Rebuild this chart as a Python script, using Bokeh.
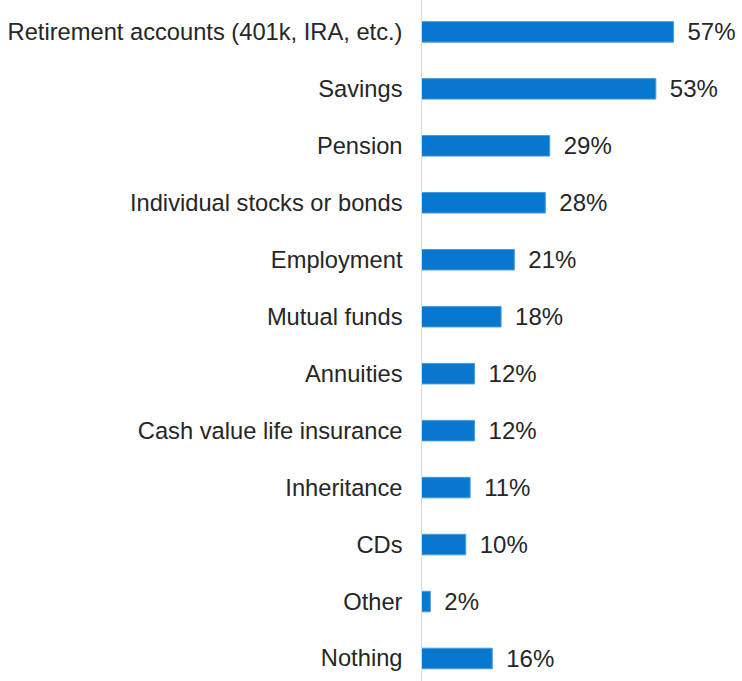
from bokeh.plotting import figure
from bokeh.models import ColumnDataSource, Range1d, FixedTicker, LabelSet
from bokeh.core.properties import value
from bokeh.embed import file_html
from bokeh.resources import INLINE

categories = ["Retirement accounts (401k, IRA, etc.)", "Savings", "Pension",
              "Individual stocks or bonds", "Employment", "Mutual funds",
              "Annuities", "Cash value life insurance", "Inheritance", "CDs",
              "Other", "Nothing"]
values = [57, 53, 29, 28, 21, 18, 12, 12, 11, 10, 2, 16]
value_labels = [f"{v}%" for v in values]

positions = list(range(len(categories)))
src = ColumnDataSource(dict(y=positions, v=values, lab=value_labels))

p = figure(width=742, height=681, output_backend="svg", toolbar_location=None,
           x_range=Range1d(0, 72.6), y_range=Range1d(11.404, -0.551),
           min_border_left=421, min_border_right=0, min_border_top=0, min_border_bottom=0)

p.hbar(y="y", right="v", left=0, height=0.36, source=src,
       fill_color="#0878CE", line_color="#4A9BDA", line_width=1)

labels = LabelSet(x="v", y="y", text="lab", source=src, x_offset=14,
                  text_baseline="middle", text_align="left",
                  text_font=value("Liberation Sans"), text_font_size=value("24px"),
                  text_color=value("#262626"))
p.add_layout(labels)

p.xaxis.visible = False
p.xgrid.visible = False
p.ygrid.visible = False
p.outline_line_color = None

ya = p.yaxis[0]
ya.ticker = FixedTicker(ticks=positions)
ya.major_label_overrides = {i: c for i, c in enumerate(categories)}
ya.major_tick_line_color = None
ya.minor_tick_line_color = None
ya.major_tick_out = 0
ya.major_tick_in = 0
ya.major_label_standoff = 19
ya.axis_line_color = "#D9D9D9"
ya.axis_line_width = 1
ya.major_label_text_font = "Liberation Sans"
ya.major_label_text_font_size = "23.7px"
ya.major_label_text_color = "#262626"

open("out.html", "w").write(file_html(p, INLINE))
